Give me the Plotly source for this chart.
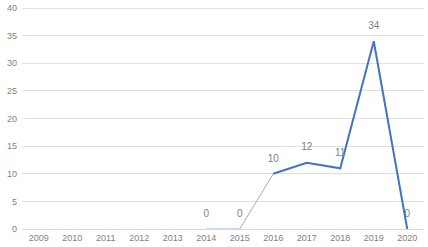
import plotly.graph_objects as go

years = ["2009", "2010", "2011", "2012", "2013", "2014", "2015", "2016", "2017", "2018", "2019", "2020"]
values = [None, None, None, None, None, 0, 0, 10, 12, 11, 34, 0]
y_ticks = [0, 5, 10, 15, 20, 25, 30, 35, 40]

fig = go.Figure()

# thin light segment (2014-2016)
fig.add_trace(go.Scatter(
    x=years[5:8], y=values[5:8], mode="lines",
    line=dict(color="#9fa8da", width=1), hoverinfo="skip", showlegend=False,
))
# thick blue segment (2016-2020)
fig.add_trace(go.Scatter(
    x=years[7:], y=values[7:], mode="lines",
    line=dict(color="#4472c4", width=2), showlegend=False,
))
# data labels
lbl_x = [y for y, v in zip(years, values) if v is not None]
lbl_y = [v for v in values if v is not None]
fig.add_trace(go.Scatter(
    x=lbl_x, y=lbl_y, mode="markers+text", text=[str(v) for v in lbl_y],
    marker=dict(size=14, opacity=0),
    textposition="top center", textfont=dict(size=10, color="#7f7f7f", family="Liberation Sans"),
    showlegend=False, hoverinfo="skip",
))

fig.update_layout(
    width=428, height=247,
    margin=dict(l=22, r=4, t=7, b=18),
    plot_bgcolor="white", paper_bgcolor="white",
    font=dict(family="Liberation Sans", size=9, color="#7f7f7f"),
    xaxis=dict(
        type="category", categoryorder="array", categoryarray=years,
        range=[-0.5, len(years) - 0.5],
        showgrid=False, showline=True, linecolor="#d9d9d9", linewidth=1,
        ticks="", tickfont=dict(size=9, color="#7f7f7f"), fixedrange=True,
    ),
    yaxis=dict(
        range=[0, 40.2], tickvals=y_ticks, showgrid=True, gridcolor="#e0e0e0", gridwidth=1,
        zeroline=False, showline=False, ticks="", ticklabelstandoff=4,
        tickfont=dict(size=9, color="#7f7f7f"), fixedrange=True,
    ),
)

fig.write_html("out.html", config={"displayModeBar": False},
               post_script="document.body.style.margin='0';document.body.style.overflow='hidden';")
